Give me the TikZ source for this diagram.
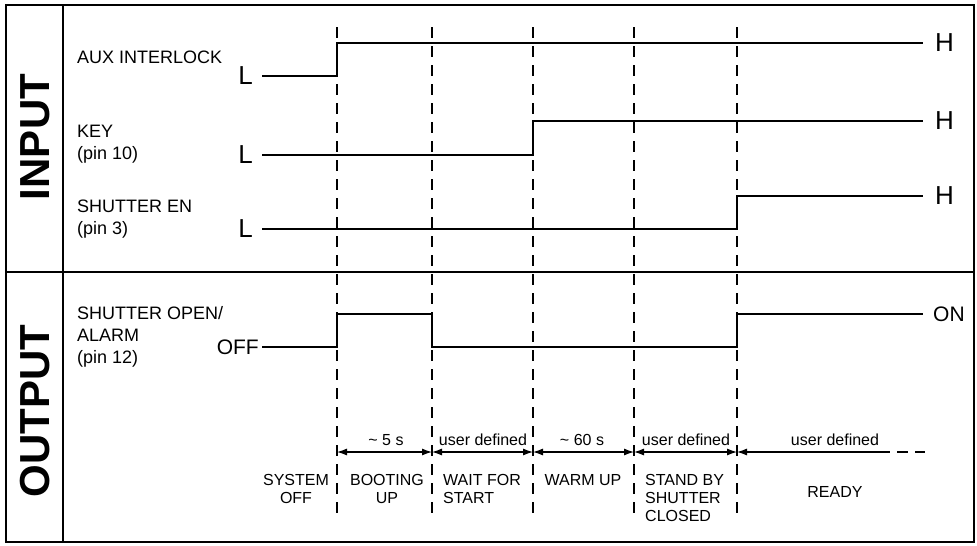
\documentclass[tikz,border=0pt]{standalone}
\usepackage{fontspec}
\setmainfont{Liberation Sans}
\usetikzlibrary{arrows.meta}
\begin{document}
\begin{tikzpicture}[x=1pt,y=-1pt,
  sig/.style={line width=2.4pt, line join=miter},
  frameline/.style={line width=2.2pt},
  guide/.style={line width=1.3pt, dash pattern=on 11pt off 8pt},
  dim/.style={line width=1.1pt, {Latex[length=10pt,width=7pt]}-{Latex[length=10pt,width=7pt]}},
  dimopen/.style={line width=1.1pt, {Latex[length=10pt,width=7pt]}-},
  tail/.style={line width=1.1pt, dash pattern=on 11pt off 7pt},
  lbl/.style={font=\fontsize{18}{22}\selectfont, align=left, anchor=north west, inner sep=0pt},
  lvl/.style={font=\fontsize{26}{26}\selectfont, inner sep=0pt},
  onoff/.style={font=\fontsize{21}{21}\selectfont, inner sep=0pt},
  side/.style={font=\fontsize{42}{42}\selectfont\bfseries, rotate=90, inner sep=0pt},
  tlabel/.style={font=\fontsize{16}{18}\selectfont, anchor=base, inner sep=0pt},
  phase/.style={font=\fontsize{16}{18}\selectfont, anchor=base, inner sep=0pt, align=center},
  phasel/.style={font=\fontsize{16}{18}\selectfont, anchor=base west, inner sep=0pt, align=left}
]
\useasboundingbox (0,0) rectangle (977,546);

% frame
\draw[frameline] (6,5) rectangle (974,542);
\draw[frameline] (63,5) -- (63,542);
\draw[frameline] (6,272) -- (974,272);

% side titles
\node[side] (tin) at (35,137) {INPUT};
\node[side] (tout) at (35,411) {OUTPUT};

% guides
\foreach \n/\x in {1/337,2/432,3/533,4/634,5/737}{
  \coordinate (g\n t) at (\x,27);
  \coordinate (g\n b) at (\x,514);
  \coordinate (a\n) at (\x,452);
  \draw[guide] (g\n t) -- (g\n b);
}

% signal labels
\node[lbl] (laux) at (77,51) {AUX INTERLOCK};
\node[lbl] (lkey) at (77,125) {KEY\\(pin 10)};
\node[lbl] (lsen) at (77,200) {SHUTTER EN\\(pin 3)};
\node[lbl] (lout) at (77,306) {SHUTTER OPEN/\\ALARM\\(pin 12)};

% level labels
\node[lvl, anchor=east] (L1) at (253,76) {L};
\node[lvl, anchor=east] (L2) at (253,155) {L};
\node[lvl, anchor=east] (L3) at (253,229) {L};
\node[lvl, anchor=west] (H1) at (935,43) {H};
\node[lvl, anchor=west] (H2) at (935,121) {H};
\node[lvl, anchor=west] (H3) at (935,196) {H};
\node[onoff, anchor=east] (OFF) at (259,347) {OFF};
\node[onoff, anchor=west] (ON) at (933,314) {ON};

% signals
\coordinate (s1a) at (262,76);  \coordinate (s1b) at (923,43);
\coordinate (s2a) at (262,155); \coordinate (s2b) at (923,121);
\coordinate (s3a) at (262,229); \coordinate (s3b) at (923,196);
\coordinate (s4a) at (262,347); \coordinate (s4b) at (923,314);
\draw[sig] (s1a) -- (337,76) -- (337,43) -- (s1b);
\draw[sig] (s2a) -- (533,155) -- (533,121) -- (s2b);
\draw[sig] (s3a) -- (737,229) -- (737,196) -- (s3b);
\draw[sig] (s4a) -- (337,347) -- (337,314) -- (432,314) -- (432,347) -- (737,347) -- (737,314) -- (s4b);

% durations
\coordinate (a6) at (879,452);
\coordinate (a7) at (925,452);
\draw[dim] (a1) -- (a2);
\draw[dim] (a2) -- (a3);
\draw[dim] (a3) -- (a4);
\draw[dim] (a4) -- (a5);
\draw[dimopen] (a5) -- (a6);
\draw[tail] (a6) -- (a7);

\node[tlabel] (t1) at (386,445) {\textasciitilde{} 5 s};
\node[tlabel] (t2) at (483,445) {user defined};
\node[tlabel] (t3) at (582,445) {\textasciitilde{} 60 s};
\node[tlabel] (t4) at (686,445) {user defined};
\node[tlabel] (t5) at (835,445) {user defined};

% phases (base anchor = baseline of the last line)
\node[phase] (p0) at (296,503) {SYSTEM\\OFF};
\node[phase] (p1) at (387,503) {BOOTING\\UP};
\node[phasel] (p2) at (443,503) {WAIT FOR\\START};
\node[phase] (p3) at (583,485) {WARM UP};
\node[phasel] (p4) at (645,521) {STAND BY\\SHUTTER\\CLOSED};
\node[phase] (p5) at (835,497) {READY};
\end{tikzpicture}
\end{document}
